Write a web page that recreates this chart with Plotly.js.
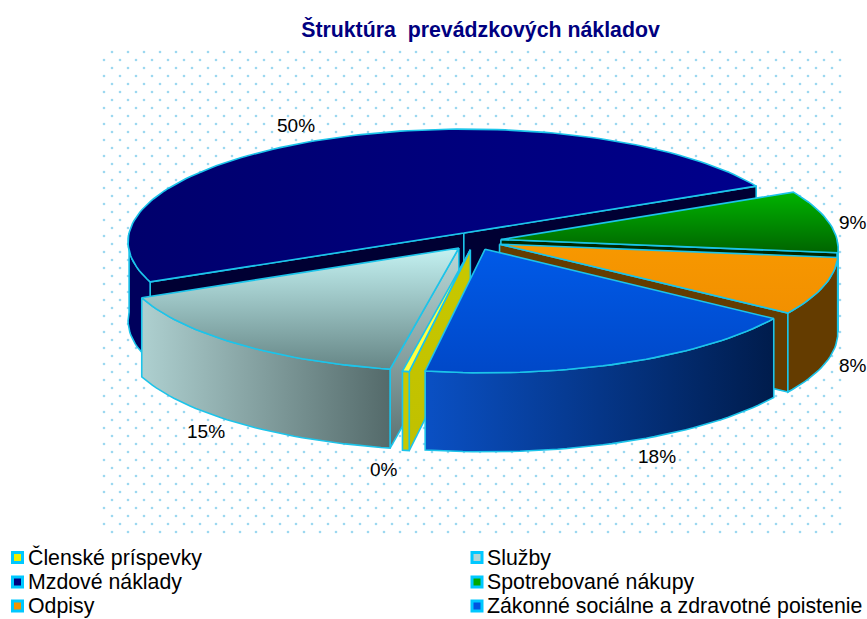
<!DOCTYPE html>
<html><head><meta charset="utf-8">
<script src="https://cdn.plot.ly/plotly-3.0.1.min.js"></script>
<style>html,body{margin:0;padding:0;background:#fff;overflow:hidden}</style></head>
<body><div id="chart" style="width:867px;height:619px"></div>
<script>
// Data, in clockwise drawing order from the start of the largest slice
const categories = ["Mzdové náklady","Spotrebované nákupy","Odpisy","Zákonné sociálne a zdravotné poistenie","Členské príspevky","Služby"];
const shares = [49.8, 9.0, 8.0, 17.8, 0.3, 15.1];
const legendOrder = ["Členské príspevky","Služby","Mzdové náklady","Spotrebované nákupy","Odpisy","Zákonné sociálne a zdravotné poistenie"];
const chartTitle = "Štruktúra  prevádzkových nákladov";

// Look (vertical gradients run bottom of the page to top on this reversed axis)
const swatch = ["#000080","#00a800","#f59300","#0055e0","#f0f000","#b4d4d4"];
const edge = "#1cc4ea";
const topFill = [
 {type:"horizontal",colorscale:[[0,"#00006c"],[1,"#00008c"]]},
 {type:"vertical",colorscale:[[0,"#006400"],[1,"#00b400"]]},
 {type:"vertical",colorscale:[[0,"#f29000"],[1,"#f79800"]]},
 {type:"vertical",colorscale:[[0,"#0048c8"],[1,"#005ae8"]]},
 {type:"vertical",colorscale:[[0,"#ffff40"],[1,"#ffff40"]]},
 {type:"vertical",colorscale:[[0,"#668686"],[1,"#c4f2f2"]]}];
const wallFill = [
 {type:"horizontal",colorscale:[[0,"#00005c"],[1,"#00005c"]]},
 {type:"horizontal",colorscale:[[0,"#003c00"],[1,"#003c00"]]},
 {type:"horizontal",colorscale:[[0,"#643c00"],[1,"#643c00"]]},
 {type:"horizontal",colorscale:[[0,"#0a50c4"],[1,"#001c4c"]]},
 {type:"horizontal",colorscale:[[0,"#c8c800"],[1,"#c8c800"]]},
 {type:"horizontal",colorscale:[[0,"#aed0d0"],[1,"#546a6a"]]}];
const faceFill = [
 {type:"vertical",colorscale:[[0,"#000033"],[1,"#000033"]]},
 {type:"vertical",colorscale:[[0,"#002800"],[1,"#002800"]]},
 {type:"vertical",colorscale:[[0,"#643c00"],[1,"#643c00"]]},
 {type:"vertical",colorscale:[[0,"#001c4c"],[1,"#001c4c"]]},
 {type:"vertical",colorscale:[[0,"#c0c000"],[1,"#c8c800"]]},
 {type:"vertical",colorscale:[[0,"#5c7272"],[1,"#b8d8d8"]]}];
const drawOrder = [0,1,2,5,4,3];

// Pie geometry on the page
const startAngle = -115, centre = [475,241], radiusX = 336.5, radiusY = 113,
      perspective = 0.0755, explode = 0.078, depth = 79;

function project(u, v, dropped){
  const w = 1 - perspective*v;
  return [centre[0] + radiusX*u/w, centre[1] + radiusY*v/w + (dropped?depth:0)];
}
const rad = d => d*Math.PI/180;
function pointAt(mid, ang, r, dropped){
  const u = explode*Math.sin(rad(mid)) + r*Math.sin(rad(ang));
  const v = -explode*Math.cos(rad(mid)) - r*Math.cos(rad(ang));
  return project(u,v,dropped);
}
function arc(mid,a,b,dropped){
  const n = Math.max(2,Math.ceil(Math.abs(b-a)/1.5)), out=[];
  for(let k=0;k<=n;k++) out.push(pointAt(mid,a+(b-a)*k/n,1,dropped));
  return out;
}
function poly(points, fillgradient, lineW){
  const xs = points.map(p=>p[0]).concat(points[0][0]);
  const ys = points.map(p=>p[1]).concat(points[0][1]);
  return {type:"scatter",mode:"lines",x:xs,y:ys,fill:"toself",fillgradient:fillgradient,
    line:{color:edge,width:lineW||1.6},hoverinfo:"skip",showlegend:false};
}

const total = shares.reduce((a,b)=>a+b,0);
let running = startAngle;
const spans = shares.map(s=>{const a=running; running+=s/total*360; return [a,running];});

const traces = [];
// dotted backdrop
const dotX=[],dotY=[];
for(let row=0,y=52;y<=534;y+=8,row++){
  for(let x=(row%2?104:112);x<=842;x+=16){dotX.push(x);dotY.push(y);}
}
traces.push({type:"scatter",mode:"markers",x:dotX,y:dotY,hoverinfo:"skip",showlegend:false,
  marker:{size:2.6,color:"#9cd8f0",line:{width:0}}});

drawOrder.forEach(i=>{
  const [a,b]=spans[i], mid=(a+b)/2;
  const apex=pointAt(mid,mid,0,false), apexLow=pointAt(mid,mid,0,true);
  const midRim=pointAt(mid,mid,1,false);
  // radial cut faces that look toward the viewer
  [a,b].forEach(ang=>{
    const p=pointAt(mid,ang,1,false), pl=pointAt(mid,ang,1,true);
    const t=(midRim[0]-apex[0])/(p[0]-apex[0]||1e-6);
    const lineY=apex[1]+(p[1]-apex[1])*t;
    const other=pointAt(mid,ang===a?b:a,1,false);
    const t2=(other[0]-apex[0])/(p[0]-apex[0]||1e-6);
    const lineY2=apex[1]+(p[1]-apex[1])*t2;
    if(midRim[1]<lineY-0.01 || other[1]<lineY2-0.01)
      traces.push(poly([apex,p,pl,apexLow],faceFill[i]));
  });
  // outer wall, front half only
  const wa=Math.max(a,90), wb=Math.min(b,270);
  const wa2=Math.max(a,-270), wb2=Math.min(b,-90);
  if(wb>wa) traces.push(poly(arc(mid,wa,wb,false).concat(arc(mid,wa,wb,true).reverse()),wallFill[i]));
  if(wb2>wa2) traces.push(poly(arc(mid,wa2,wb2,false).concat(arc(mid,wa2,wb2,true).reverse()),wallFill[i]));
  // top surface
  traces.push(poly([apex].concat(arc(mid,a,b,false)),topFill[i]));
});

// percentage labels
const labelFont = {family:"Liberation Sans, Arial, sans-serif",size:19,color:"#000"};
const labelPos = {"Mzdové náklady":[296,125],"Spotrebované nákupy":[852.5,222],"Odpisy":[853,365],
  "Zákonné sociálne a zdravotné poistenie":[657,456],"Členské príspevky":[384,469],"Služby":[206,431]};
const annotations = categories.map((c,i)=>({xref:"x",yref:"y",x:labelPos[c][0],y:labelPos[c][1],
  text:Math.round(shares[i]/total*100)+"%",showarrow:false,xanchor:"center",yanchor:"middle",font:labelFont}));

// legend
const legendX=[17.5,477], legendY=[557.5,582,606];
const lgX=[],lgY=[],lgC=[];
legendOrder.forEach((c,k)=>{
  const x=legendX[k%2], y=legendY[Math.floor(k/2)];
  lgX.push(x);lgY.push(y);lgC.push(swatch[categories.indexOf(c)]);
  annotations.push({xref:"x",yref:"y",x:x+8,y:y,text:c,showarrow:false,xanchor:"left",yanchor:"middle",
    font:{family:"Liberation Sans, Arial, sans-serif",size:21.3,color:"#000"}});
});
traces.push({type:"scatter",mode:"markers",x:lgX,y:lgY,hoverinfo:"skip",showlegend:false,
  marker:{symbol:"square",size:10,color:lgC,line:{color:"#00c8ff",width:3}}});

Plotly.newPlot("chart",traces,{
  width:867,height:619,margin:{l:0,r:0,t:0,b:0},paper_bgcolor:"#fff",plot_bgcolor:"#fff",showlegend:false,
  title:{text:chartTitle,x:480.5/867,xanchor:"center",y:1-30/619,yanchor:"middle",
    font:{family:"Liberation Sans, Arial, sans-serif",size:21.3,color:"#000080",weight:"bold"}},
  xaxis:{range:[0,867],visible:false,fixedrange:true},
  yaxis:{range:[619,0],visible:false,fixedrange:true},
  annotations:annotations
},{displayModeBar:false,staticPlot:true});
</script></body></html>
